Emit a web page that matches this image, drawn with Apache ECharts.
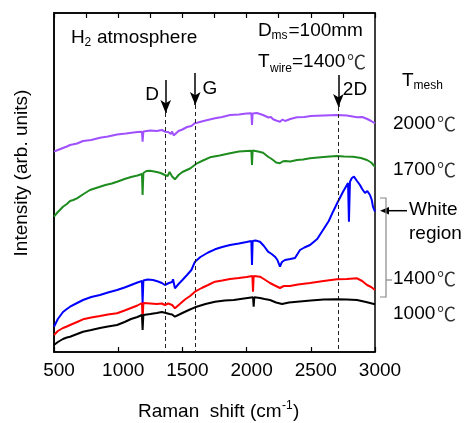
<!DOCTYPE html>
<html>
<head>
<meta charset="utf-8">
<script src="https://cdn.jsdelivr.net/npm/echarts@6/dist/echarts.min.js"></script>
<style>
  html, body { margin: 0; padding: 0; background: #fff; }
  #chart { width: 468px; height: 423px; }
</style>
</head>
<body>
<div id="chart"></div>
<script>
// Raman spectra, intensity in arbitrary units (offset per mesh temperature)
const xTicks = [500, 1000, 1500, 2000, 2500, 3000];

const spec2000 = [
  [500,200.3],[530,202],[570,204],[600,205.5],[625,207],[680,208.5],[726,211],[790,212],
  [858,214.3],[920,215.5],[991,217.5],[1060,218.5],[1120,219.5],[1150,220],
  [1185,220.3],[1190,210.3],[1196,220.5],[1250,221.5],[1300,221],[1340,222],[1364,220.3],
  [1390,220],[1410,218],[1420,220.5],[1432,216.5],[1442,218],[1470,221],[1500,222.5],
  [1536,225],[1570,226],[1598,229],[1614,229.3],[1680,231.5],[1754,233.7],[1810,235],
  [1871,237],[1940,237.5],[2000,238.5],[2037,238.7],[2042,227],[2047,238.5],[2080,239],
  [2128,237],[2170,234.5],[2190,235],[2206,232.7],[2230,231.5],[2260,230.3],[2280,232.5],
  [2300,231],[2340,233],[2393,234.7],[2450,235],[2500,236],[2600,236.5],[2700,237],
  [2780,236.5],[2860,234.7],[2900,235],[2940,233],[2970,231],[3000,228.7]
];
const spec1700 = [
  [500,135.3],[530,140],[570,145.3],[600,148],[625,151],[650,152],[679,153.7],[730,158],
  [780,162],[840,164.5],[900,167],[950,168.5],[991,170.3],[1050,173],[1100,175],[1150,176.5],
  [1185,178],[1190,157],[1196,179],[1220,181],[1248,181.3],[1280,180.5],[1300,180],
  [1330,179],[1364,177],[1385,176],[1400,180],[1420,175.5],[1442,172.7],[1470,177],
  [1500,180],[1560,183.5],[1614,188.7],[1660,191.5],[1715,194.7],[1790,196.5],[1871,198.7],
  [1940,200.5],[2000,201],[2037,201.3],[2042,187],[2047,201.5],[2090,200.5],[2128,199.3],
  [2170,195],[2190,193.5],[2206,192],[2230,189.5],[2245,191],[2260,188.7],[2280,190.5],
  [2300,191],[2340,190.5],[2393,192],[2440,192.5],[2494,193.7],[2600,195],[2700,196],
  [2760,195.5],[2830,195.3],[2890,194],[2938,192],[2970,189.5],[3000,185.3]
];
const spec1400w = [
  [500,25.3],[530,33],[570,40],[600,43],[625,45.3],[680,49],[726,52],[790,55],
  [858,57],[920,59.5],[991,62],[1050,64.5],[1100,67],[1150,69.5],[1185,71],
  [1190,48.7],[1196,71.5],[1230,72.5],[1271,72],[1310,70.5],[1340,69],[1364,67],
  [1395,69],[1420,70],[1427,72.7],[1442,63.7],[1470,68],[1500,72],[1536,77],[1570,82],
  [1598,90.3],[1640,95],[1700,99.5],[1754,102.7],[1810,105],[1871,107],[1940,108.5],
  [2000,110],[2037,111],[2042,87],[2047,111],[2070,111.5],[2104,110.3],[2135,106],
  [2167,100.3],[2195,98],[2221,95.3],[2240,92],[2260,85.3],[2275,90],[2299,92],
  [2340,93],[2377,94],[2416,102],[2450,104.5],[2494,107],[2550,113],[2595,122],
  [2640,131],[2673,140.3],[2710,150],[2751,160.3],[2790,169],[2797,130.3],[2805,170.3],
  [2820,174],[2836,175.3],[2860,171],[2883,167],[2900,163],[2922,159],[2940,161],
  [2961,157],[2975,152],[2984,145.3],[3000,140.3]
];
const spec1400 = [
  [500,17],[530,21],[570,24],[600,25.5],[625,27],[680,30],[726,32.7],[790,34.5],
  [858,36],[920,37.5],[991,38.7],[1050,41.5],[1100,44],[1150,46.5],[1185,49],
  [1190,32],[1196,49],[1250,48.5],[1300,48],[1340,48.5],[1364,47],[1390,48.5],
  [1400,50],[1420,47],[1442,43.7],[1480,48],[1520,52.5],[1560,56],[1598,60.3],
  [1650,64],[1700,67],[1754,70.3],[1810,71.5],[1871,73],[1940,74],[2000,75],[2045,76],
  [2050,60.3],[2055,76],[2104,75.3],[2140,72.5],[2182,69],[2220,66.5],[2260,64],
  [2290,66],[2338,66],[2400,67.5],[2494,69],[2600,71],[2704,72.7],[2780,73],
  [2860,73.7],[2900,71],[2938,67],[2970,65],[3000,62]
];
const spec1000 = [
  [500,7],[530,10],[570,13],[600,14.5],[625,15.3],[680,18],[726,20.3],[790,22],
  [858,24],[920,25.5],[991,27],[1050,30],[1100,33],[1150,35],[1185,37],
  [1190,22],[1196,37],[1250,38],[1300,39],[1340,40],[1364,39.3],[1400,38],
  [1420,37.5],[1442,35.3],[1500,39],[1550,42],[1598,44.7],[1680,48],[1754,50.3],
  [1830,51.5],[1900,52],[1980,53.5],[2050,54.7],[2055,45.3],[2060,54.7],[2104,54],
  [2140,53],[2182,52],[2230,49.5],[2276,48],[2330,49.5],[2393,50.3],[2500,51.5],
  [2600,52.5],[2704,52.7],[2780,52.5],[2860,52],[2930,50],[3000,47.7]
];

// Band positions (cm-1) with arrow start / tip / dashed-line levels
const bandNames = ['D', 'G', '2D'];
const bandPos = [1370, 1600, 2715];
const arrowTop = [272, 279, 277];
const arrowTip = [239, 247, 245];

const FONT = '"Liberation Sans", Arial, sans-serif';
const CJK = '"Noto Sans CJK JP", sans-serif';

const chart = echarts.init(document.getElementById('chart'));

function line(data, color, z) {
  return {
    type: 'line', data, showSymbol: false, symbol: 'none', z,
    lineStyle: { color, width: 2 }, animation: false, silent: true
  };
}

const solidStyle = { type: 'solid', width: 1.5, color: '#000' };
const dashLines = bandPos.map((p, i) => [
  { coord: [p, arrowTip[i]], symbol: 'none' },
  { coord: [p, 0], symbol: 'none' }
]);
const arrowLines = bandPos.map((p, i) => [
  { coord: [p, arrowTop[i]], symbol: 'none', lineStyle: solidStyle },
  { coord: [p, arrowTip[i]], symbol: 'arrow', symbolSize: [8, 13], lineStyle: solidStyle }
]);

const blackSeries = line(spec1000, '#000000', 6);
blackSeries.markLine = {
  silent: true, animation: false, symbol: 'none',
  label: { show: false },
  lineStyle: { color: '#222', width: 1, type: [4, 3] },
  data: dashLines.concat(arrowLines)
};

function txt(text, x, y, size, opts) {
  return {
    type: 'text', x, y, silent: true,
    style: Object.assign({
      text, fill: '#000', font: size + 'px ' + FONT,
      align: 'left', verticalAlign: 'middle'
    }, opts || {})
  };
}

const degree = (x, y) => txt('\u2103', x, y, 19, { font: '19px ' + CJK, fill: '#333' });

const graphics = [
  // top-left annotation
  txt('H', 71, 37.5, 19), txt('2', 84.5, 42.5, 12), txt('atmosphere', 97, 37.5, 19),
  // conditions
  txt('D', 258, 30.5, 19), txt('ms', 271.5, 35.8, 12), txt('=100mm', 288.5, 30.5, 19),
  txt('T', 258, 61.6, 19), txt('wire', 270, 69, 12), txt('=1400', 292, 61.6, 19),
  degree(347, 61.6),
  // band labels
  txt(bandNames[0], 152, 95, 19, { align: 'center' }),
  txt(bandNames[1], 210, 88.3, 19, { align: 'center' }),
  txt(bandNames[2], 355, 90, 19, { align: 'center' }),
  // mesh temperature legend
  txt('T', 402, 80.3, 19), txt('mesh', 413.6, 85.8, 12),
  txt('2000', 393, 123.3, 19), degree(437, 123.3),
  txt('1700', 393, 169.3, 19), degree(437, 169.3),
  txt('1400', 393, 278.3, 19), degree(437, 278.3),
  txt('1000', 393, 314, 19), degree(437, 314),
  txt('White', 409, 210, 19), txt('region', 409, 233.3, 19),
  // arrow to the white-region spectrum
  { type: 'line', silent: true, shape: { x1: 386, y1: 210.7, x2: 407, y2: 210.7 }, style: { stroke: '#000', lineWidth: 1.5 } },
  { type: 'polygon', silent: true, shape: { points: [[380, 210.7], [389, 207], [389, 214.4]] }, style: { fill: '#000' } },
  // bracket
  { type: 'polyline', silent: true, shape: { points: [[380, 198], [386, 198], [386, 297], [380, 297]] }, style: { stroke: '#888', lineWidth: 1.2, fill: null } },
  { type: 'line', silent: true, shape: { x1: 386, y1: 280, x2: 392, y2: 280 }, style: { stroke: '#888', lineWidth: 1.2 } },
  // axis titles
  {
    type: 'text', x: 22, y: 173, rotation: Math.PI / 2, silent: true,
    style: { text: 'Intensity (arb. units)', fill: '#000', font: '19px ' + FONT, align: 'center', verticalAlign: 'middle' }
  },
  txt('Raman  shift (cm', 138, 411.5, 19), txt('-1', 282, 406, 12), txt(')', 293, 411.5, 19)
];

chart.setOption({
  animation: false,
  backgroundColor: '#fff',
  grid: { left: 54, right: 93, top: 13, bottom: 71, show: true, borderColor: '#000', borderWidth: 1.5, backgroundColor: 'transparent' },
  xAxis: [
    {
      type: 'value', min: xTicks[0], max: xTicks[xTicks.length - 1], interval: 500,
      position: 'bottom',
      axisLine: { show: true, lineStyle: { color: '#000', width: 1.5 } },
      axisTick: { show: true, inside: true, length: 5, lineStyle: { color: '#000', width: 1.2 } },
      axisLabel: {
        show: true, color: '#000', fontSize: 19, fontFamily: FONT, margin: 9,
        padding: [0, 0, 0, 10], formatter: v => String(v)
      },
      splitLine: { show: false }
    },
    {
      type: 'value', min: 500, max: 3000, interval: 250, position: 'top',
      axisLine: { show: true, lineStyle: { color: '#000', width: 1.5 } },
      axisTick: { show: true, inside: true, length: 5, lineStyle: { color: '#000', width: 1.2 } },
      axisLabel: { show: false }, splitLine: { show: false }
    }
  ],
  yAxis: {
    type: 'value', min: 0, max: 339,
    axisLine: { show: true, lineStyle: { color: '#000', width: 1.5 } },
    axisTick: { show: false }, axisLabel: { show: false }, splitLine: { show: false }
  },
  series: [
    line(spec2000, '#A050FF', 2),
    line(spec1700, '#1E8C1E', 3),
    line(spec1400w, '#0000FF', 4),
    line(spec1400, '#FF0000', 5),
    blackSeries
  ],
  graphic: graphics
});
</script>
</body>
</html>
